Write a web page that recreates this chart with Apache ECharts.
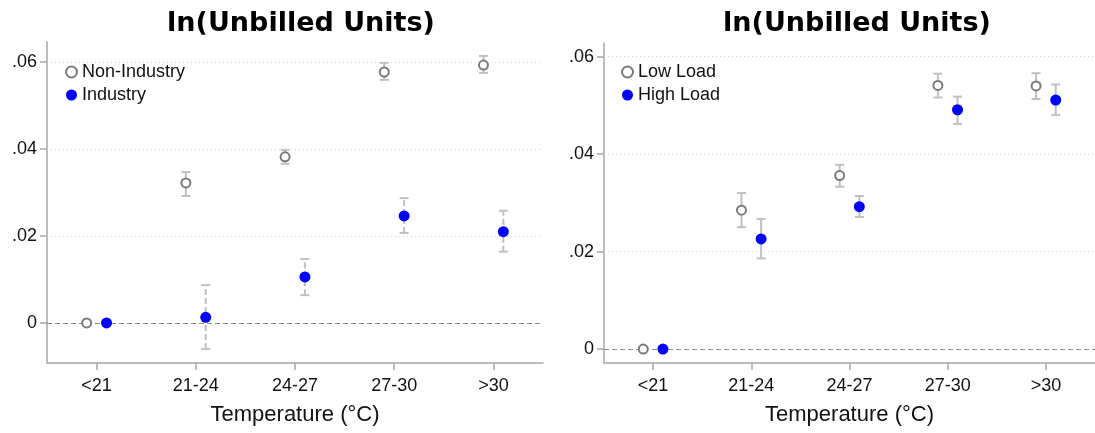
<!DOCTYPE html>
<html><head><meta charset="utf-8">
<script src="https://cdn.jsdelivr.net/npm/echarts@6/dist/echarts.min.js"></script>
<style>html,body{margin:0;padding:0;background:#fff}#c{width:1095px;height:433px}</style>
</head><body><div id="c"></div>
<script>
const categories = ['<21','21-24','24-27','27-30','>30'];
const yTicks = [0, 0.02, 0.04, 0.06];
const gridLines = [0.02, 0.04, 0.06];
// Left panel
const nonInd   = [0, 0.0322, 0.0382, 0.0577, 0.0593];
const nonIndLo = [null, 0.0292, 0.0366, 0.0559, 0.0575];
const nonIndHi = [null, 0.0347, 0.0398, 0.0598, 0.0614];
const ind      = [0, 0.0013, 0.0106, 0.0246, 0.0210];
const indLo    = [null, -0.0060, 0.0064, 0.0207, 0.0164];
const indHi    = [null, 0.0087, 0.0147, 0.0287, 0.0258];
// Right panel
const lowLoad   = [0, 0.0285, 0.0356, 0.0541, 0.0540];
const lowLoadLo = [null, 0.0250, 0.0333, 0.0516, 0.0513];
const lowLoadHi = [null, 0.0320, 0.0378, 0.0565, 0.0566];
const highLoad   = [0, 0.0226, 0.0292, 0.0491, 0.0511];
const highLoadLo = [null, 0.0186, 0.0271, 0.0462, 0.0480];
const highLoadHi = [null, 0.0267, 0.0314, 0.0518, 0.0543];

const OFF = 0.1;
const FONT = '"Liberation Sans", Arial, Helvetica, sans-serif';
function pts(vals, off){ return vals.map((v,i)=>[i+1+off, v]); }
function bars(lo, hi, off){ const r=[]; lo.forEach((l,i)=>{ if(l!=null) r.push([i+1+off, l, hi[i]]); }); return r; }
function errRender(dashed){
  return function(params, api){
    const x=api.value(0), lo=api.value(1), hi=api.value(2);
    const a=api.coord([x,lo]), b=api.coord([x,hi]);
    const cw=4.5;
    const st={stroke:'#c0c0c0', lineWidth:2, lineDash: dashed?[6,3]:null};
    const cs={stroke:'#c0c0c0', lineWidth:2};
    return {type:'group', children:[
      {type:'line', shape:{x1:a[0],y1:a[1],x2:b[0],y2:b[1]}, style:st},
      {type:'line', shape:{x1:a[0]-cw,y1:a[1],x2:a[0]+cw,y2:a[1]}, style:cs},
      {type:'line', shape:{x1:b[0]-cw,y1:b[1],x2:b[0]+cw,y2:b[1]}, style:cs}
    ]};
  };
}
const axisGray = '#a6a6a6';
function xAxis(gi){
  return {type:'value', gridIndex:gi, min:0.5, max:5.5,
    axisLine:{show:true, onZero:false, lineStyle:{color:axisGray, width:1.5}},
    axisTick:{show:true, customValues:[1,2,3,4,5], length:7, lineStyle:{color:axisGray, width:1.5}},
    axisLabel:{customValues:[1,2,3,4,5], formatter:v=>categories[Math.round(v)-1], color:'#111', fontSize:18, fontFamily:FONT, margin:14},
    splitLine:{show:false},
    name:'Temperature (°C)', nameLocation:'middle', nameGap:41,
    nameTextStyle:{color:'#111', fontSize:22, fontFamily:FONT}};
}
function yAxis(gi, mn, mx){
  return {type:'value', gridIndex:gi, min:mn, max:mx,
    axisLine:{show:true, lineStyle:{color:axisGray, width:1.5}},
    axisTick:{show:true, customValues:yTicks, length:7, lineStyle:{color:axisGray, width:1.5}},
    axisLabel:{customValues:yTicks, formatter:v=> Math.abs(v)<1e-9 ? '0' : v.toFixed(2).replace(/^0/,''), color:'#111', fontSize:18, fontFamily:FONT, margin:10},
    splitLine:{show:false}};
}
function refLines(){
  return {silent:true, symbol:'none', label:{show:false},
    data: gridLines.map(v=>({yAxis:v, lineStyle:{color:'#d0d0d0', type:[1,3], width:1}}))
      .concat([{yAxis:0, lineStyle:{color:'#8c8c8c', type:[5,3], width:1.2}}])};
}
const hollow = {color:'#fff', borderColor:'#7a7a7a', borderWidth:2, opacity:1};
const filled = {color:'#0000ff', opacity:1};
const titleStyle = {fontSize:27, fontWeight:'bold', color:'#000', fontFamily:'"DejaVu Sans", sans-serif'};

const option = {
  animation:false,
  backgroundColor:'#fff',
  title:[
    {text:'ln(Unbilled Units)', left:296, top:5, textAlign:'center', textStyle:titleStyle},
    {text:'ln(Unbilled Units)', left:852, top:5, textAlign:'center', textStyle:titleStyle}
  ],
  grid:[
    {left:47, top:42, width:496, height:321},
    {left:604, top:43, width:496, height:320}
  ],
  legend:[
    {left:60, top:58, orient:'vertical', itemGap:5, itemWidth:11, itemHeight:11,
     data:[{name:'Non-Industry', itemStyle:hollow},{name:'Industry', itemStyle:filled}],
     textStyle:{fontSize:18, color:'#111', fontFamily:FONT}},
    {left:616, top:58, orient:'vertical', itemGap:5, itemWidth:11, itemHeight:11,
     data:[{name:'Low Load', itemStyle:hollow},{name:'High Load', itemStyle:filled}],
     textStyle:{fontSize:18, color:'#111', fontFamily:FONT}}
  ],
  xAxis:[xAxis(0), xAxis(1)],
  yAxis:[yAxis(0,-0.0092,0.0646), yAxis(1,-0.00287,0.0628)],
  series:[
    {type:'line', xAxisIndex:0, yAxisIndex:0, data:[], markLine:refLines(), silent:true},
    {type:'line', xAxisIndex:1, yAxisIndex:1, data:[], markLine:refLines(), silent:true},
    {type:'custom', xAxisIndex:0, yAxisIndex:0, renderItem:errRender(false), data:bars(nonIndLo,nonIndHi,-OFF), encode:{x:0,y:[1,2]}, z:3, silent:true},
    {type:'custom', xAxisIndex:0, yAxisIndex:0, renderItem:errRender(true), data:bars(indLo,indHi,OFF), encode:{x:0,y:[1,2]}, z:3, silent:true},
    {type:'custom', xAxisIndex:1, yAxisIndex:1, renderItem:errRender(false), data:bars(lowLoadLo,lowLoadHi,-OFF), encode:{x:0,y:[1,2]}, z:3, silent:true},
    {type:'custom', xAxisIndex:1, yAxisIndex:1, renderItem:errRender(false), data:bars(highLoadLo,highLoadHi,OFF), encode:{x:0,y:[1,2]}, z:3, silent:true},
    {name:'Non-Industry', type:'scatter', xAxisIndex:0, yAxisIndex:0, data:pts(nonInd,-OFF), symbol:'circle', symbolSize:9, itemStyle:hollow, z:5},
    {name:'Industry', type:'scatter', xAxisIndex:0, yAxisIndex:0, data:pts(ind,OFF), symbol:'circle', symbolSize:11, itemStyle:filled, z:5},
    {name:'Low Load', type:'scatter', xAxisIndex:1, yAxisIndex:1, data:pts(lowLoad,-OFF), symbol:'circle', symbolSize:9, itemStyle:hollow, z:5},
    {name:'High Load', type:'scatter', xAxisIndex:1, yAxisIndex:1, data:pts(highLoad,OFF), symbol:'circle', symbolSize:11, itemStyle:filled, z:5}
  ]
};
const chart = echarts.init(document.getElementById('c'), null, {renderer:'canvas'});
chart.setOption(option);
</script></body></html>
